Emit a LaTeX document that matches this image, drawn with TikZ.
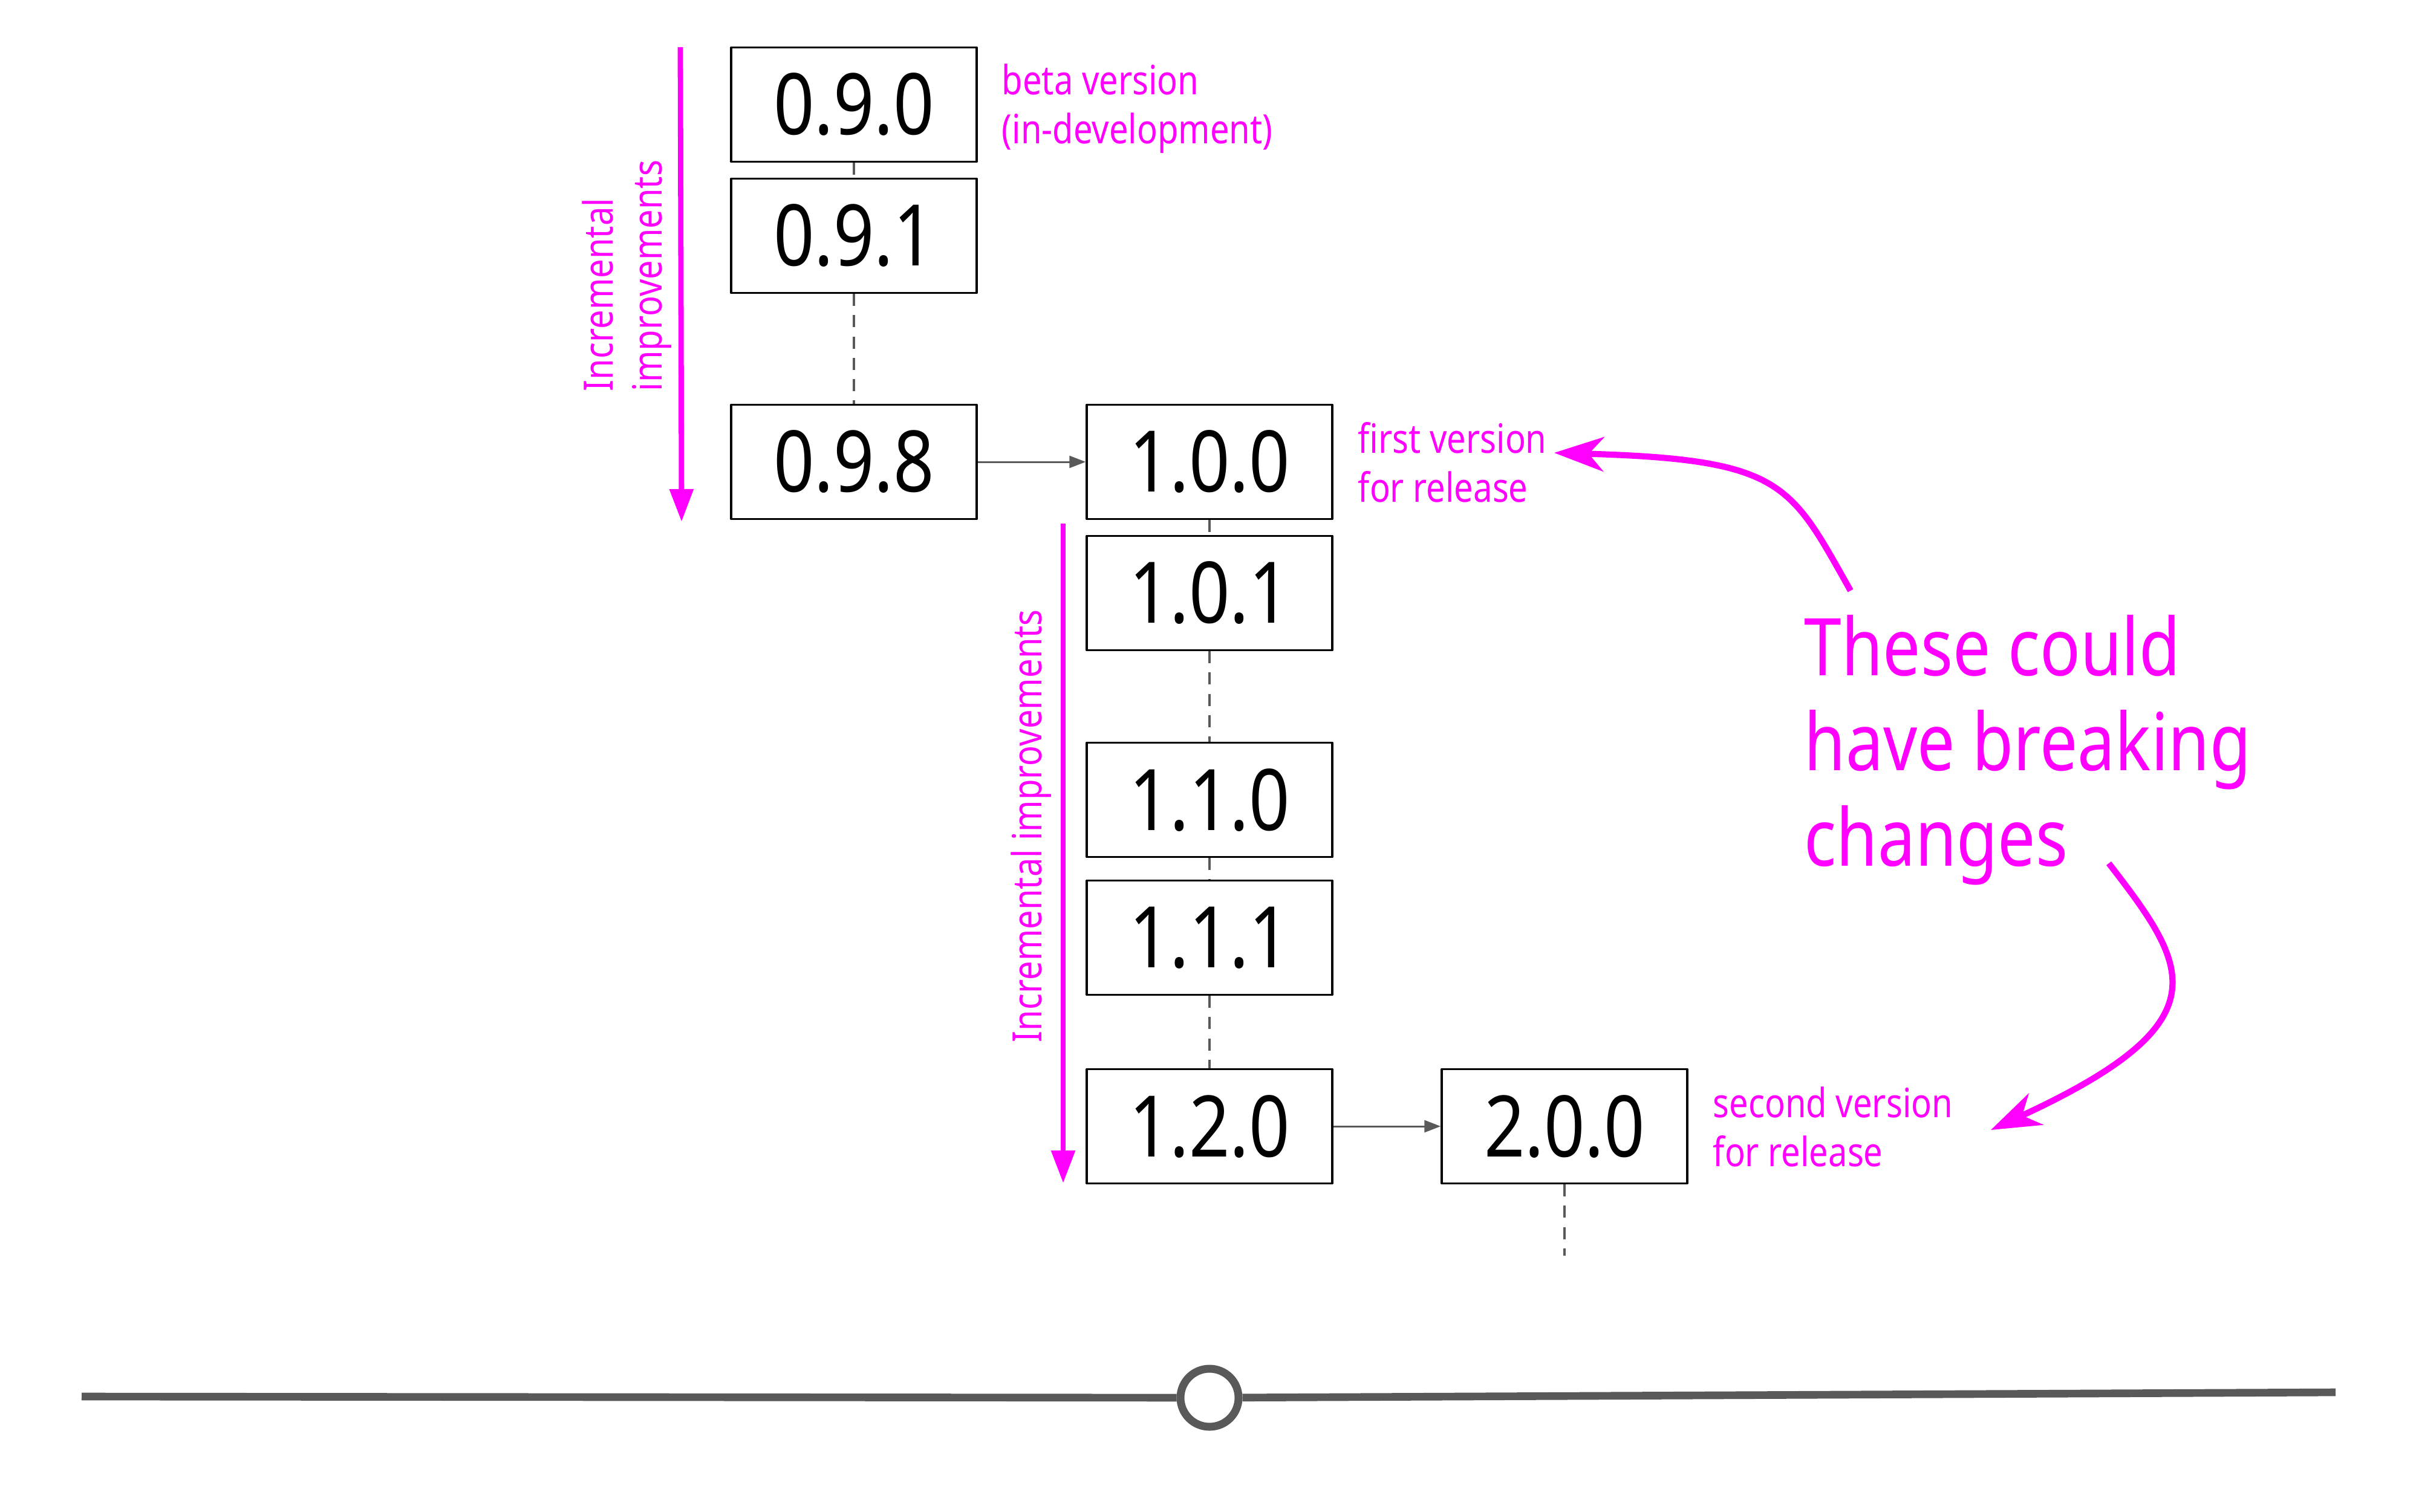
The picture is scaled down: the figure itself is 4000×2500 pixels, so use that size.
\documentclass[tikz,border=0pt]{standalone}
\usepackage{fontspec}
\setmainfont{Noto Sans}[FakeStretch=0.84]
\usetikzlibrary{arrows.meta}
\definecolor{pinkink}{HTML}{FF00FF}
\definecolor{linegray}{HTML}{595959}

\begin{document}
\begin{tikzpicture}[line join=round,x=0.1mm,y=-0.1mm,
	box/.style={draw=black,line width=1pt,minimum width=40.6mm,minimum height=18.9mm,inner sep=0pt,font=\fontsize{40}{46}\selectfont},
	link/.style={draw=linegray,line width=0.9pt,dash pattern=on 5.7pt off 4.3pt},
	next/.style={draw=linegray,line width=0.85pt,-{Triangle[length=2.7mm,width=2mm]}},
	note/.style={text=pinkink,inner sep=0pt,align=left,anchor=base west,font=\fontsize{19}{22.8}\selectfont},
	trend/.style={draw=pinkink,line width=2.5pt,-{Triangle[length=5.4mm,width=3.8mm]}},
	hint/.style={draw=pinkink,line width=2.9pt,-{Stealth[length=8.2mm,width=5.7mm,inset=2.5mm]}}]
	\useasboundingbox (0,0) rectangle (4000,2500);
	\foreach \n/\x/\y/\t in {v090/1412/173/0.9.0,v091/1412/390/0.9.1,v098/1412/764/0.9.8,v100/2000/764/1.0.0,v101/2000/981/1.0.1,v110/2000/1323/1.1.0,v111/2000/1551/1.1.1,v120/2000/1863/1.2.0,v200/2587/1863/2.0.0}
	\node[box] (\n) at (\x,\y) {\t};
	\foreach \a/\b in {v090/v091,v091/v098,v100/v101,v101/v110,v110/v111,v111/v120}
	\draw[link] (\a) -- (\b);
	\coordinate (more) at (2587,2077);
	\draw[link] (v200.south) -- (more);
	\draw[next] (v098) -- (v100);
	\draw[next] (v120) -- (v200);
	\coordinate (inc1top) at (1125,78);
	\coordinate (inc1end) at (1127,863);
	\coordinate (inc2top) at (1758,866);
	\coordinate (inc2end) at (1758,1957);
	\draw[trend] (inc1top) -- (inc1end);
	\draw[trend] (inc2top) -- (inc2end);
	\node[note,rotate=90] (inc1) at (1094,648) {Incremental\\improvements};
	\node[note,rotate=90] (inc2) at (1722,1725) {Incremental improvements};
	\node[note] (beta) at (1656,237) {beta version\\(in-development)};
	\node[note] (first) at (2245,830) {first version\\for release};
	\node[note] (second) at (2832,1929) {second version\\for release};
	\node[note,font=\fontsize{37.5}{44.7}\selectfont] (breaking) at (2983,1432) {These could\\have breaking\\changes};
	\coordinate (up) at (3060,977);
	\coordinate (down) at (3487,1428);
	\coordinate (firsttip) at (2570,749);
	\coordinate (secondtip) at (3292,1869);
	\draw[hint] (up) .. controls (2960,800) and (2950,760) .. (firsttip);
	\draw[hint] (down) .. controls (3620,1600) and (3680,1690) .. (secondtip);
	\node[draw=linegray,line width=3.7pt,circle,minimum size=9.6mm,inner sep=0pt] (now) at (2000,2312) {};
	\coordinate (past) at (135,2310);
	\coordinate (future) at (3862,2303);
	\draw[linegray,line width=3.6pt] (past) -- (now);
	\draw[linegray,line width=3.6pt] (now) -- (future);
\end{tikzpicture}
\end{document}
